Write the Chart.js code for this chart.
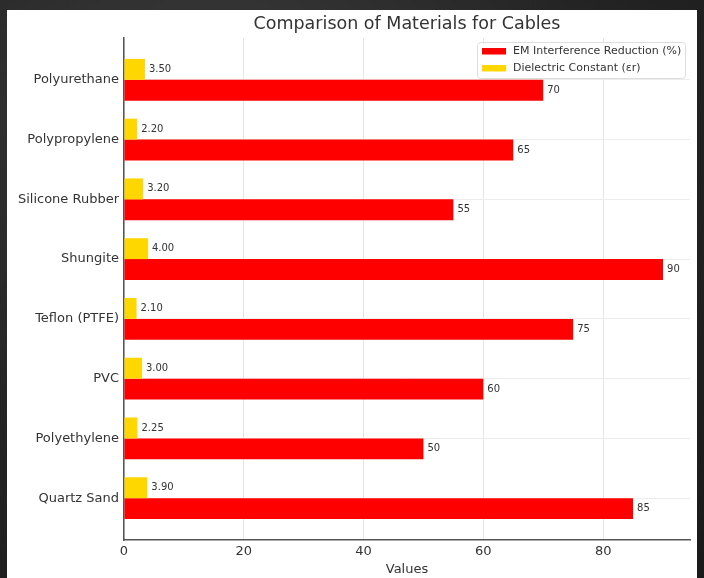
<!DOCTYPE html>
<html>
<head>
<meta charset="utf-8">
<script src="https://cdn.jsdelivr.net/npm/chart.js@4/dist/chart.umd.min.js"></script>
<style>
    html, body { margin: 0; padding: 0; }
    body {
        width: 704px; height: 578px; overflow: hidden;
        background: radial-gradient(ellipse at 30% 20%, #3a3a3a 0%, #242424 55%, #1a1a1a 100%);
    }
    #card {
        position: absolute; left: 7px; top: 10px; width: 690px; height: 568px;
        background: #ffffff;
    }
</style>
</head>
<body>
<div id="card"><canvas id="chart" width="690" height="568"></canvas></div>
<script>
// bottom to top, same order as the matplotlib y positions
const materials = ['Quartz Sand', 'Polyethylene', 'PVC', 'Teflon (PTFE)', 'Shungite', 'Silicone Rubber', 'Polypropylene', 'Polyurethane'];
const emReduction = [85, 50, 60, 75, 90, 55, 65, 70];
const dielectric = [3.90, 2.25, 3.00, 2.10, 4.00, 3.20, 2.20, 3.50];
const xTicks = [0, 20, 40, 60, 80];
const chartTitle = 'Comparison of Materials for Cables';

const FONT = 'DejaVu Sans';
const TEXT = '#333333';

// value labels to the right of each bar
const valueLabels = {
    id: 'valueLabels',
    afterDatasetsDraw(chart) {
        const ctx = chart.ctx;
        ctx.save();
        ctx.font = '10px ' + FONT;
        ctx.fillStyle = TEXT;
        ctx.textBaseline = 'middle';
        ctx.textAlign = 'left';
        chart.data.datasets.forEach((ds, di) => {
            chart.getDatasetMeta(di).data.forEach((bar, i) => {
                const v = ds.data[i].x;
                const txt = di === 0 ? v.toFixed(2) : String(v);
                ctx.fillText(txt, bar.x + 4, bar.y);
            });
        });
        ctx.restore();
    }
};

// title centred over the plot area, like an axes title
const axesTitle = {
    id: 'axesTitle',
    afterDraw(chart) {
        const ctx = chart.ctx;
        const area = chart.chartArea;
        ctx.save();
        ctx.font = '17.5px ' + FONT;
        ctx.fillStyle = TEXT;
        ctx.textAlign = 'center';
        ctx.textBaseline = 'middle';
        ctx.fillText(chartTitle, (area.left + area.right) / 2, 14);
        ctx.restore();
    }
};

// matplotlib-like legend inside the plot, upper right
const innerLegend = {
    id: 'innerLegend',
    afterDraw(chart) {
        const ctx = chart.ctx;
        const items = [chart.data.datasets[1], chart.data.datasets[0]];
        const x0 = 470, y0 = 32, boxW = 208, boxH = 36;
        ctx.save();
        ctx.fillStyle = 'rgba(255,255,255,0.85)';
        ctx.strokeStyle = '#dddddd';
        ctx.lineWidth = 1;
        ctx.beginPath();
        ctx.roundRect(x0 + 0.5, y0 + 0.5, boxW, boxH, 3);
        ctx.fill();
        ctx.stroke();
        ctx.font = '11px ' + FONT;
        ctx.textBaseline = 'middle';
        items.forEach((ds, i) => {
            const cy = y0 + 9 + i * 17;
            ctx.fillStyle = ds.backgroundColor;
            ctx.fillRect(x0 + 5, cy - 3, 24, 6.5);
            ctx.fillStyle = TEXT;
            ctx.fillText(ds.label, x0 + 36, cy);
        });
        ctx.restore();
    }
};

new Chart(document.getElementById('chart'), {
    type: 'bar',
    data: {
        datasets: [
            {
                label: 'Dielectric Constant (εr)',
                data: dielectric.map((v, i) => ({ x: v, y: i })),
                backgroundColor: '#ffd700'
            },
            {
                label: 'EM Interference Reduction (%)',
                data: emReduction.map((v, i) => ({ x: v, y: i })),
                backgroundColor: '#ff0000'
            }
        ]
    },
    options: {
        indexAxis: 'y',
        responsive: false,
        animation: false,
        categoryPercentage: 0.7,
        barPercentage: 1.0,
        layout: { padding: { left: 0, right: 7, top: 28, bottom: 0 } },
        plugins: {
            legend: { display: false },
            tooltip: { enabled: false },
            title: { display: false }
        },
        scales: {
            x: {
                type: 'linear',
                min: 0,
                max: 94.5,
                afterBuildTicks: axis => { axis.ticks = xTicks.map(v => ({ value: v })); },
                afterFit: axis => { axis.height = 38; },
                grid: { color: '#e6e6e6', drawTicks: false },
                border: { color: '#555555', width: 1.5 },
                ticks: { color: TEXT, padding: 4, font: { family: FONT, size: 13 } },
                title: {
                    display: true,
                    text: 'Values',
                    color: TEXT,
                    font: { family: FONT, size: 13 },
                    padding: { top: 0, bottom: 1 }
                }
            },
            y: {
                type: 'linear',
                min: -0.7,
                max: 7.7,
                offset: false,
                afterBuildTicks: axis => { axis.ticks = materials.map((m, i) => ({ value: i })); },
                afterFit: axis => { axis.width = 117; },
                grid: { color: '#ececec', drawTicks: false, offset: false },
                border: { color: '#555555', width: 1.5 },
                ticks: {
                    color: TEXT,
                    padding: 5,
                    font: { family: FONT, size: 13 },
                    callback: v => materials[v]
                }
            }
        }
    },
    plugins: [valueLabels, axesTitle, innerLegend]
});
</script>
</body>
</html>
